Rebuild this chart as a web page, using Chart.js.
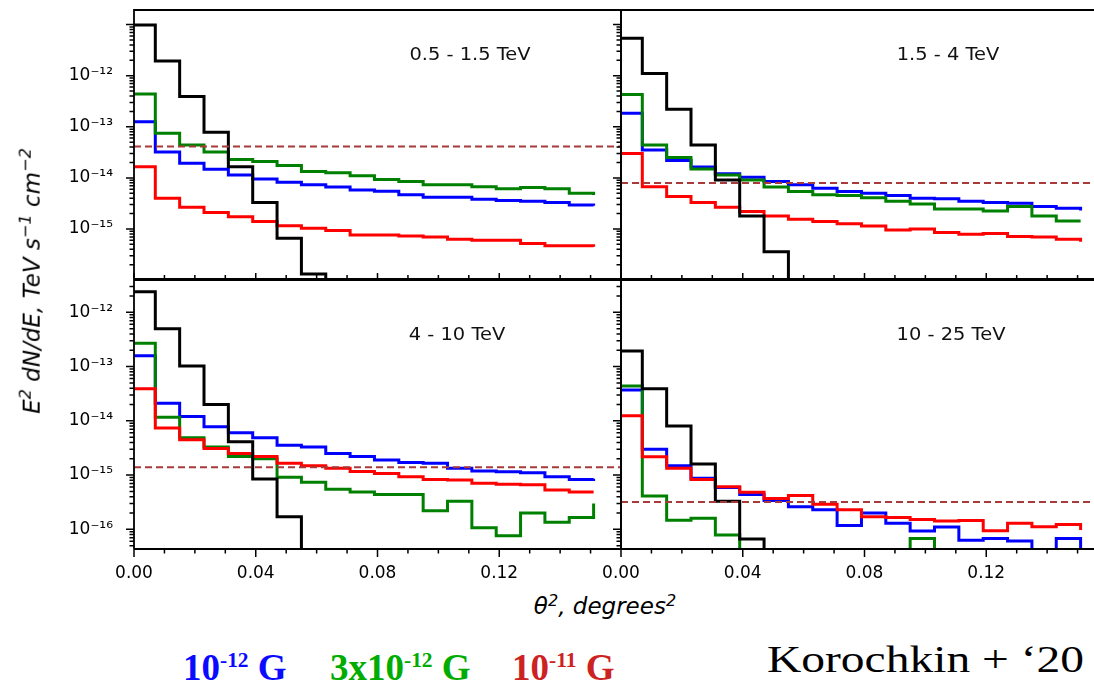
<!DOCTYPE html>
<html>
<head>
<meta charset="utf-8">
<script src="https://cdn.jsdelivr.net/npm/chart.js@4.4.1/dist/chart.umd.min.js"></script>
<style>
  body { margin: 0; background: #fff; width: 1094px; height: 685px; overflow: hidden; position: relative; font-family: 'DejaVu Sans', sans-serif; }
  .pn { position: absolute; }
  .pn canvas { display: block; }
  .note { position: absolute; font-size: 18px; color: #111; white-space: nowrap; transform: translate(-50%, -50%) scaleX(1.08); }
  .ytitle { position: absolute; left: 30px; top: 281px; font-size: 23px; font-style: italic; white-space: nowrap; transform: translate(-50%, -50%) rotate(-90deg); }
  .xtitle { position: absolute; left: 605px; top: 605px; font-size: 23px; font-style: italic; white-space: nowrap; transform: translate(-50%, -50%); }
  .ytitle sup, .xtitle sup { font-size: 0.7em; }
  .leg { position: absolute; top: 641px; font-family: 'Liberation Serif', serif; font-weight: bold; font-size: 37px; line-height: 38px; white-space: nowrap; }
  .leg sup { font-size: 0.58em; vertical-align: 0.62em; }
  .cite { position: absolute; left: 767px; top: 640px; font-family: 'Liberation Serif', serif; font-size: 38px; line-height: 38px; white-space: nowrap; transform-origin: left center; transform: scaleX(1.25); }
</style>
</head>
<body>
<div class="pn" style="left:0;top:0"><canvas id="c1" width="640" height="290"></canvas></div>
<div class="pn" style="left:600px;top:0"><canvas id="c2" width="494" height="290"></canvas></div>
<div class="pn" style="left:0;top:270px"><canvas id="c3" width="640" height="320"></canvas></div>
<div class="pn" style="left:600px;top:270px"><canvas id="c4" width="494" height="320"></canvas></div>

<div class="note" style="left:470px;top:53px">0.5 - 1.5 TeV</div>
<div class="note" style="left:948px;top:53px">1.5 - 4 TeV</div>
<div class="note" style="left:457px;top:333px">4 - 10 TeV</div>
<div class="note" style="left:951px;top:333px">10 - 25 TeV</div>

<div class="ytitle">E<sup>2</sup> dN/dE, TeV s<sup>−1</sup> cm<sup>−2</sup></div>
<div class="xtitle">θ<sup>2</sup>, degrees<sup>2</sup></div>

<div class="leg" style="left:183px;color:#0a0aff">10<sup>-12</sup> G</div>
<div class="leg" style="left:330px;color:#00ac00">3x10<sup>-12</sup> G</div>
<div class="leg" style="left:512px;color:#cc2222">10<sup>-11</sup> G</div>
<div class="cite">Korochkin + ‘20</div>

<script>
// bin edges in theta^2 (deg^2); last entry is the end of the last bin
const edges = [0, 0.007, 0.015, 0.023, 0.031, 0.039, 0.047, 0.055, 0.063, 0.071,
               0.079, 0.087, 0.095, 0.103, 0.111, 0.119, 0.127, 0.135, 0.143, 0.151];
const NONE = 1e-20; // below the plot floor

const xTickValues = [0, 0.04, 0.08, 0.12];
const xTickLabels = ['0.00', '0.04', '0.08', '0.12'];
const topDecades = [-12, -13, -14, -15];
const bottomDecades = [-12, -13, -14, -15, -16];

// 0.5 - 1.5 TeV
const blackA = [9.8e-12, 1.94e-12, 3.9e-13, 7.8e-14, 1.66e-14, 3.3e-15, 6.6e-16, 1.32e-16, NONE, NONE, NONE, NONE, NONE, NONE, NONE, NONE, NONE, NONE, NONE, NONE];
const greenA = [4.4e-13, 7.5e-14, 4.4e-14, 3.2e-14, 2.3e-14, 2.1e-14, 1.75e-14, 1.33e-14, 1.26e-14, 1.1e-14, 9.3e-15, 8.5e-15, 7.3e-15, 7.3e-15, 6.7e-15, 6.1e-15, 6.5e-15, 6.1e-15, 5.0e-15, 4.6e-15];
const blueA = [1.26e-13, 3.2e-14, 1.93e-14, 1.47e-14, 1.14e-14, 9.5e-15, 8.2e-15, 7.3e-15, 6.6e-15, 5.8e-15, 5.5e-15, 4.7e-15, 4.2e-15, 4.2e-15, 3.8e-15, 3.6e-15, 3.5e-15, 3.3e-15, 2.95e-15, 2.85e-15];
const redA = [1.66e-14, 4.0e-15, 2.66e-15, 2.1e-15, 1.74e-15, 1.4e-15, 1.16e-15, 1.03e-15, 9.3e-16, 7.6e-16, 7.6e-16, 7.3e-16, 7.0e-16, 6.3e-16, 6.0e-16, 6.0e-16, 5.2e-16, 4.7e-16, 4.7e-16, 4.5e-16];
const cutA = 4.1e-14;

// 1.5 - 4 TeV
const blackB = [5.4e-12, 1.1e-12, 2.2e-13, 4.4e-14, 9.1e-15, 1.8e-15, 3.6e-16, NONE, NONE, NONE, NONE, NONE, NONE, NONE, NONE, NONE, NONE, NONE, NONE, NONE];
const greenB = [4.3e-13, 4.4e-14, 2.5e-14, 1.5e-14, 1.14e-14, 9.1e-15, 6.6e-15, 5.4e-15, 4.7e-15, 4.5e-15, 4.1e-15, 3.5e-15, 3.1e-15, 2.45e-15, 2.45e-15, 2.25e-15, 2.75e-15, 1.8e-15, 1.43e-15, 1.43e-15];
const blueB = [1.84e-13, 3.5e-14, 2.2e-14, 1.63e-14, 1.2e-14, 1.03e-14, 8.5e-15, 7.3e-15, 6.3e-15, 5.4e-15, 5.0e-15, 4.5e-15, 4.0e-15, 3.9e-15, 3.5e-15, 3.3e-15, 3.2e-15, 2.75e-15, 2.55e-15, 2.3e-15];
const redB = [3.0e-14, 6.7e-15, 4.3e-15, 3.3e-15, 2.66e-15, 2.2e-15, 1.8e-15, 1.55e-15, 1.4e-15, 1.26e-15, 1.15e-15, 9.6e-16, 1.0e-15, 8.5e-16, 7.9e-16, 8.2e-16, 7.1e-16, 7.0e-16, 6.3e-16, 5.6e-16];
const cutB = 7.9e-15;

// 4 - 10 TeV
const blackC = [2.4e-12, 5.0e-13, 1.02e-13, 2.0e-14, 4.1e-15, 8.5e-16, 1.7e-16, NONE, NONE, NONE, NONE, NONE, NONE, NONE, NONE, NONE, NONE, NONE, NONE, NONE];
const greenC = [2.7e-13, 1.16e-14, 4.9e-15, 3.3e-15, 2.2e-15, 2.0e-15, 9.1e-16, 7.4e-16, 5.5e-16, 4.9e-16, 4.4e-16, 4.4e-16, 2.2e-16, 3.3e-16, 1.07e-16, 7.6e-17, 2.0e-16, 1.35e-16, 1.66e-16, 3.0e-16];
const blueC = [1.59e-13, 2.1e-14, 1.2e-14, 7.8e-15, 6.0e-15, 4.9e-15, 3.55e-15, 3.3e-15, 2.5e-15, 2.2e-15, 1.9e-15, 1.7e-15, 1.65e-15, 1.33e-15, 1.19e-15, 1.15e-15, 1.1e-15, 9.3e-16, 8.3e-16, 8.6e-16];
const redC = [3.9e-14, 7.4e-15, 4.5e-15, 3.1e-15, 2.5e-15, 2.2e-15, 1.65e-15, 1.48e-15, 1.33e-15, 1.16e-15, 1.07e-15, 9.3e-16, 8.3e-16, 8.1e-16, 7.1e-16, 6.8e-16, 6.6e-16, 5.3e-16, 4.9e-16, 4.9e-16];
const cutC = 1.4e-15;

// 10 - 25 TeV
const blackD = [1.94e-13, 3.9e-14, 8.0e-15, 1.6e-15, 3.3e-16, 6.6e-17, NONE, NONE, NONE, NONE, NONE, NONE, NONE, NONE, NONE, NONE, NONE, NONE, NONE, NONE];
const greenD = [4.4e-14, 4.1e-16, 1.47e-16, 1.6e-16, 7.9e-17, NONE, NONE, NONE, NONE, NONE, NONE, NONE, 6.8e-17, NONE, NONE, NONE, NONE, NONE, NONE, NONE];
const blueD = [3.7e-14, 3.0e-15, 1.48e-15, 8.7e-16, 5.9e-16, 4.4e-16, 3.4e-16, 2.6e-16, 2.3e-16, 1.18e-16, 2.0e-16, 1.3e-16, 9.3e-17, 1.1e-16, 6.3e-17, 6.8e-17, 6.1e-17, NONE, 6.8e-17, NONE];
const redD = [1.24e-14, 2.18e-15, 1.33e-15, 8.3e-16, 6.1e-16, 4.8e-16, 3.7e-16, 4.2e-16, 2.9e-16, 2.3e-16, 1.7e-16, 1.65e-16, 1.52e-16, 1.42e-16, 1.45e-16, 9.4e-17, 1.29e-16, 1.12e-16, 1.23e-16, 9.7e-17];
const cutD = 3.2e-16;

const SUP = {'-': '⁻', '0': '⁰', '1': '¹', '2': '²', '3': '³', '4': '⁴', '5': '⁵', '6': '⁶', '7': '⁷', '8': '⁸', '9': '⁹'};

function isDecade(v) {
  const l = Math.log10(v);
  return Math.abs(l - Math.round(l)) < 1e-6;
}

function decadeLabel(v, decades) {
  if (!isDecade(v)) return '';
  const e = Math.round(Math.log10(v));
  if (!decades.includes(e)) return '';
  return '10' + String(e).split('').map(c => SUP[c]).join('');
}

function logTicks(lo, hi) {
  const out = [];
  for (let e = Math.floor(Math.log10(lo)); e <= Math.ceil(Math.log10(hi)); e++) {
    for (let m = 1; m <= 9; m++) {
      const v = m * Math.pow(10, e);
      if (v >= lo && v <= hi) out.push({value: v});
    }
  }
  return out;
}

function steps(vals) {
  return edges.map((x, i) => ({x: x, y: vals[i]}));
}

function series(vals, color) {
  return {data: steps(vals), borderColor: color, borderWidth: 3, stepped: true, pointRadius: 0, fill: false, borderJoinStyle: 'miter'};
}

// frame + tick marks
const frame = {
  id: 'frame',
  afterDraw(chart, args, opts) {
    const c = chart.ctx, a = chart.chartArea, xs = chart.scales.x, ys = chart.scales.y;
    c.save();
    c.strokeStyle = '#000';
    c.lineWidth = 1.5;
    c.beginPath();
    ys.ticks.forEach(t => {
      const py = ys.getPixelForValue(t.value);
      const len = isDecade(t.value) ? 8 : 4.5;
      c.moveTo(a.left - len, py); c.lineTo(a.left, py);
    });
    for (let i = 0; i <= 15; i++) {
      const v = i / 100;
      if (v > xs.max) break;
      const px = xs.getPixelForValue(v);
      const major = i % 4 === 0;
      if (opts.ticksUp) {
        const len = major ? 6 : 4;
        c.moveTo(px, a.bottom - len); c.lineTo(px, a.bottom);
      } else {
        const len = major ? 8 : 4.5;
        c.moveTo(px, a.bottom); c.lineTo(px, a.bottom + len);
      }
    }
    c.stroke();
    c.lineWidth = 1.8;
    c.beginPath();
    c.moveTo(a.left, a.bottom); c.lineTo(a.left, a.top); c.lineTo(a.right, a.top);
    if (!opts.open) { c.lineTo(a.right, a.bottom); } else { c.moveTo(a.right, a.bottom); }
    c.lineTo(a.left, a.bottom);
    c.stroke();
    c.restore();
  }
};

function makePanel(id, p) {
  const ctx = document.getElementById(id).getContext('2d');
  return new Chart(ctx, {
    type: 'line',
    data: {
      datasets: [
        {data: [{x: 0, y: p.cut}, {x: p.xmax, y: p.cut}], borderColor: '#a83a3a', borderWidth: 2, borderDash: [7, 4], pointRadius: 0},
        series(p.black, '#000000'),
        series(p.red, '#ff0000'),
        series(p.green, '#008000'),
        series(p.blue, '#0000ff')
      ]
    },
    options: {
      responsive: false,
      animation: false,
      layout: {padding: {top: 10, right: p.padRight, bottom: p.padBottom, left: 0}},
      plugins: {legend: {display: false}, tooltip: {enabled: false}, frame: {ticksUp: p.ticksUp, open: p.open}},
      scales: {
        x: {
          type: 'linear', min: 0, max: p.xmax, bounds: 'data',
          display: p.xLabels,
          afterBuildTicks: s => { s.ticks = xTickValues.map(v => ({value: v})); },
          afterFit: s => { s.height = p.xLabels ? 41 : 0; s.paddingLeft = 0; s.paddingRight = 0; },
          grid: {display: false, drawTicks: false},
          border: {display: false},
          ticks: {
            autoSkip: false, maxRotation: 0, padding: 14, color: '#000',
            font: {family: 'DejaVu Sans', size: 17},
            callback: v => {
              const i = xTickValues.findIndex(t => Math.abs(t - v) < 1e-9);
              return i < 0 ? '' : xTickLabels[i];
            }
          }
        },
        y: {
          type: 'logarithmic', min: p.ymin, max: p.ymax, bounds: 'data',
          afterBuildTicks: s => { s.ticks = logTicks(p.ymin, p.ymax); },
          afterFit: s => { s.width = p.yWidth; s.paddingTop = 0; s.paddingBottom = 0; },
          grid: {display: false, drawTicks: false},
          border: {display: false},
          ticks: {
            autoSkip: false, padding: 21, color: '#000',
            font: {family: 'DejaVu Sans', size: 17},
            callback: v => p.yLabels ? decadeLabel(v, p.decades) : ''
          }
        }
      }
    },
    plugins: [frame]
  });
}

const topMin = 1.05e-16, topMax = 1.93e-11;
const botMin = 4.34e-17, botMax = 3.94e-12;

makePanel('c1', {black: blackA, green: greenA, blue: blueA, red: redA, cut: cutA,
  xmax: 0.16, ymin: topMin, ymax: topMax, yWidth: 134, yLabels: true, decades: topDecades, xLabels: false,
  padRight: 19, padBottom: 11, ticksUp: true, open: false});
makePanel('c2', {black: blackB, green: greenB, blue: blueB, red: redB, cut: cutB,
  xmax: 0.1554, ymin: topMin, ymax: topMax, yWidth: 21, yLabels: false, decades: topDecades, xLabels: false,
  padRight: 0, padBottom: 11, ticksUp: true, open: true});
makePanel('c3', {black: blackC, green: greenC, blue: blueC, red: redC, cut: cutC,
  xmax: 0.16, ymin: botMin, ymax: botMax, yWidth: 134, yLabels: true, decades: bottomDecades, xLabels: true,
  padRight: 19, padBottom: 0, ticksUp: false, open: false});
makePanel('c4', {black: blackD, green: greenD, blue: blueD, red: redD, cut: cutD,
  xmax: 0.1554, ymin: botMin, ymax: botMax, yWidth: 21, yLabels: false, decades: bottomDecades, xLabels: true,
  padRight: 0, padBottom: 0, ticksUp: false, open: true});
</script>
</body>
</html>
